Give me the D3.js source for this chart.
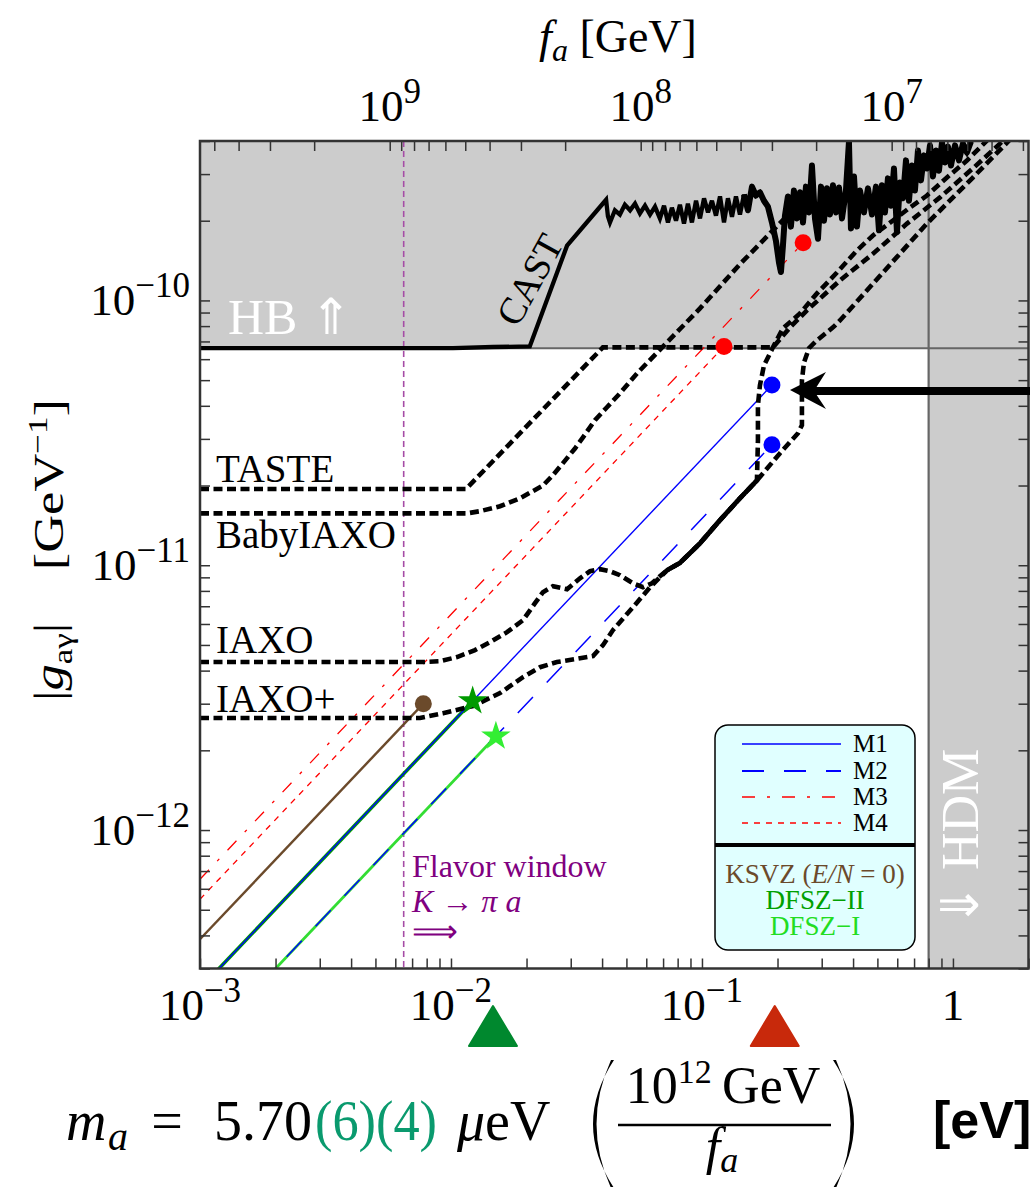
<!DOCTYPE html>
<html><head><meta charset="utf-8">
<script src="https://cdn.jsdelivr.net/npm/d3@7"></script>
<style>
body{margin:0;background:#fff;}
svg text{font-family:"Liberation Serif","Times New Roman",serif;}
</style></head><body>
<svg id="chart" width="1030" height="1187"></svg>
<script>
// ---------------- data (m_a in eV, g in GeV^-1) ----------------
const massDomain=[1e-3,2];
const gDomain=[3e-13,4e-10];
const hbLimit=6.6e-11;
const hdmLimit=0.8;
const flavorMass=6.48e-3;
const faConv=5.7e6;           // f_a[GeV] = 5.7e6 / m_a[eV]

const castM=[1e-3,1.018e-2,1.47e-2,2.06e-2,2.9e-2,4.15e-2,4.22e-2,
4.30e-2,4.50e-2,4.71e-2,4.93e-2,5.17e-2,5.41e-2,5.66e-2,5.93e-2,6.21e-2,6.50e-2,6.80e-2,7.06e-2,7.32e-2,7.59e-2,7.88e-2,8.17e-2,8.48e-2,8.79e-2,9.12e-2,9.47e-2,9.82e-2,
0.1019,0.1057,0.1096,0.1137,0.1180,0.1224,0.1269,0.1317,0.1366,0.1417,0.1470,0.1525,0.1582,0.1641,0.1702,0.1766,0.1832,0.1900,0.1971,0.2027,0.2064,0.2102,0.2141,0.2200,0.2262,0.2325,0.2390,0.2457,0.2526,0.2596,0.2669,0.2743,0.2820,0.2899,0.2980,0.3063,0.3148,0.3236,0.3327,0.3420,0.3515,0.3613,0.3747,0.3852,0.3923,0.4034,0.4146,0.4262,0.4421,0.4586,0.4757,0.4934,0.5072,0.5214,0.5359,0.5508,0.5662,0.5821,0.5983,0.6150,0.6322,0.6499,0.6680,0.6866,0.7057,0.7254,0.7457,0.7665,0.7879,0.8099,0.8325,0.8558,0.8796,0.9043,0.9292,0.9552,0.9818,1.019,1.057,1.096,1.137,1.180];
const castG=[6.6e-11,6.6e-11,6.67e-11,6.7e-11,1.61e-10,2.4e-10,2.08e-10,
1.97e-10,2.19e-10,2.11e-10,2.30e-10,2.19e-10,2.32e-10,2.13e-10,2.28e-10,2.11e-10,2.26e-10,2.04e-10,2.28e-10,1.97e-10,2.24e-10,2.00e-10,2.30e-10,1.95e-10,2.32e-10,1.97e-10,2.38e-10,2.04e-10,
2.43e-10,2.15e-10,2.38e-10,2.09e-10,2.47e-10,1.97e-10,2.43e-10,2.07e-10,2.47e-10,2.11e-10,2.51e-10,2.19e-10,2.69e-10,2.49e-10,2.56e-10,2.38e-10,2.26e-10,1.97e-10,1.68e-10,1.39e-10,1.28e-10,1.61e-10,2.09e-10,2.47e-10,1.90e-10,2.60e-10,2.04e-10,2.56e-10,1.97e-10,2.69e-10,2.15e-10,3.23e-10,2.04e-10,1.71e-10,2.69e-10,2.00e-10,2.65e-10,2.11e-10,2.72e-10,2.15e-10,2.67e-10,2.04e-10,2.60e-10,3.98e-10,1.87e-10,2.94e-10,1.90e-10,2.60e-10,2.15e-10,2.65e-10,2.11e-10,2.69e-10,1.84e-10,2.72e-10,2.15e-10,2.89e-10,2.28e-10,3.15e-10,1.81e-10,2.79e-10,2.43e-10,3.38e-10,2.38e-10,3.23e-10,2.60e-10,3.68e-10,2.84e-10,3.53e-10,3.15e-10,3.85e-10,2.94e-10,3.68e-10,3.09e-10,3.95e-10,3.32e-10,3.81e-10,3.23e-10,3.85e-10,3.38e-10,3.91e-10,3.62e-10,3.98e-10];

const tasteM=[1e-3,1.148e-2,4.03e-2,0.1918,0.2242,0.2620,0.3546,0.480,0.656,0.888,1.20,1.54,1.687];
const tasteG=[1.94e-11,1.94e-11,6.65e-11,6.65e-11,7.91e-11,9.17e-11,1.19e-10,1.50e-10,1.95e-10,2.45e-10,3.15e-10,3.91e-10,4.27e-10];

const babyM=[1e-3,1.158e-2,1.305e-2,1.568e-2,1.883e-2,2.325e-2,2.549e-2,2.794e-2,3.119e-2,3.357e-2,3.747e-2,4.183e-2,4.713e-2,5.559e-2,9.82e-2,0.1417,0.1918,0.2457];
const babyG=[1.57e-11,1.57e-11,1.60e-11,1.67e-11,1.79e-11,2.00e-11,2.19e-11,2.43e-11,2.76e-11,3.04e-11,3.53e-11,3.95e-11,4.46e-11,5.35e-11,9.33e-11,1.37e-10,1.84e-10,2.34e-10];

const iaxoM=[1e-3,7.734e-3,9.04e-3,1.057e-2,1.246e-2,1.430e-2,1.672e-2,1.936e-2,2.161e-2,2.325e-2,2.549e-2,2.899e-2,3.266e-2,3.579e-2,3.924e-2,4.30e-2,4.713e-2,5.311e-2,5.821e-2,6.322e-2,6.80e-2,7.254e-2,8.17e-2,9.82e-2,0.1180,0.1417,0.1656,0.1671,0.1671,0.1702,0.1766,0.1918,0.2102,0.2457,0.2872,0.3450,0.4146,0.480,0.5768,0.6742,0.7879,0.9465,1.137,1.281,1.404];
const iaxoG=[4.31e-12,4.31e-12,4.34e-12,4.50e-12,4.78e-12,5.12e-12,5.59e-12,6.20e-12,7.19e-12,7.91e-12,8.33e-12,8.12e-12,8.93e-12,9.49e-12,9.66e-12,9.49e-12,9.17e-12,8.55e-12,8.26e-12,8.55e-12,9.09e-12,9.57e-12,1.02e-11,1.21e-11,1.48e-11,1.79e-11,2.09e-11,2.96e-11,4.02e-11,4.78e-11,5.68e-11,6.65e-11,7.84e-11,8.93e-11,1.063e-10,1.275e-10,1.544e-10,1.759e-10,2.004e-10,2.243e-10,2.490e-10,2.912e-10,3.376e-10,3.779e-10,4.12e-10];

const iaxoPlusM=[1e-3,7.525e-3,9.292e-3,1.224e-2,1.568e-2,1.936e-2,2.262e-2,2.644e-2,3.119e-2,3.679e-2,4.033e-2,4.42e-2,5.311e-2,6.21e-2,7.254e-2,8.17e-2,9.82e-2,0.1180,0.1417,0.1656,0.2046,0.2413,0.2502,0.2502,0.2549,0.2669,0.2872,0.3327,0.3546,0.7879,1.201,1.718];
const iaxoPlusG=[2.65e-12,2.65e-12,2.76e-12,2.94e-12,3.29e-12,3.78e-12,4.12e-12,4.31e-12,4.42e-12,4.54e-12,4.99e-12,5.69e-12,6.94e-12,8.26e-12,9.57e-12,1.02e-11,1.21e-11,1.48e-11,1.79e-11,2.09e-11,2.65e-11,3.15e-11,3.38e-11,4.99e-11,5.83e-11,6.6e-11,7.07e-11,7.91e-11,8.40e-11,1.952e-10,2.912e-10,4.12e-10];

const m1M=[1e-3,0.19],   m1G=[2.52e-13,4.79e-11];
const m2M=[1e-3,0.19],   m2G=[1.5e-13,2.85e-11];
const m3M=[1e-3,0.253],  m3G=[6.52e-13,1.65e-10];
const m4M=[1e-3,0.1224], m4G=[5.48e-13,6.7e-11];
const ksvzM=[1e-3,7.76e-3], ksvzG=[3.87e-13,3.0e-12];
const dfsz2M=[1e-3,1.22e-2], dfsz2G=[2.52e-13,3.07e-12];
const dfsz1M=[1e-3,1.51e-2], dfsz1G=[1.5e-13,2.26e-12];

const triangleM=[1.47e-2,0.195];
const bottomTickLabels=[{v:1e-3,b:"10",e:"\u22123"},{v:1e-2,b:"10",e:"\u22122"},{v:1e-1,b:"10",e:"\u22121"},{v:1,b:"1",e:""}];
const leftTickLabels=[{v:1e-10,b:"10",e:"\u221210"},{v:1e-11,b:"10",e:"\u221211"},{v:1e-12,b:"10",e:"\u221212"}];
const topTickLabels=[{v:1e9,b:"10",e:"9"},{v:1e8,b:"10",e:"8"},{v:1e7,b:"10",e:"7"}];
const detectorNames=["TASTE","BabyIAXO","IAXO","IAXO+"];
const modelNames=["M1","M2","M3","M4"];

// ---------------- drawing ----------------
const svg=d3.select("#chart");
const L=200,R=1028.5,T=141,B=968.5;
const X=d3.scaleLog().domain(massDomain).range([L,R]);
const Y=d3.scaleLog().domain(gDomain).range([B,T]);
const FA=d3.scaleLog().domain([faConv/massDomain[0],faConv/massDomain[1]]).range([L,R]);
const zip=(a,b)=>a.map((v,i)=>[v,b[i]]);
const line=d3.line().x(d=>X(d[0])).y(d=>Y(d[1]));

svg.append("defs").append("clipPath").attr("id","clip").append("rect")
  .attr("x",L).attr("y",T).attr("width",R-L).attr("height",B-T);
const plot=svg.append("g").attr("clip-path","url(#clip)");

// excluded regions
plot.append("rect").attr("x",L).attr("y",T).attr("width",X(hdmLimit)-L).attr("height",Y(hbLimit)-T).attr("fill","#cccccc");
plot.append("rect").attr("x",X(hdmLimit)).attr("y",T).attr("width",R-X(hdmLimit)).attr("height",B-T).attr("fill","#cccccc");
plot.append("line").attr("x1",L).attr("x2",R).attr("y1",Y(hbLimit)).attr("y2",Y(hbLimit)).attr("stroke","#666").attr("stroke-width",2);
plot.append("line").attr("x1",X(hdmLimit)).attr("x2",X(hdmLimit)).attr("y1",T).attr("y2",B).attr("stroke","#666").attr("stroke-width",2.2);

// flavor window
plot.append("line").attr("x1",X(flavorMass)).attr("x2",X(flavorMass)).attr("y1",T).attr("y2",B)
  .attr("stroke","#a64ca6").attr("stroke-width",1.6).attr("stroke-dasharray","6,4");

// model lines
function path(m,g,color,w,dash){
  plot.append("path").datum(zip(m,g)).attr("d",line).attr("fill","none")
    .attr("stroke",color).attr("stroke-width",w).attr("stroke-dasharray",dash||null);
}
path(dfsz2M,dfsz2G,"#009a00",3.6);
path(dfsz1M,dfsz1G,"#33dd33",2.8);
path(ksvzM,ksvzG,"#6b4a2b",2.4);
path(m1M,m1G,"#0000ff",1.4);
path(m2M,m2G,"#0000ff",1.5,"22,20");
path(m3M,m3G,"#ff0000",1.3,"13,12,3,12");
path(m4M,m4G,"#ff0000",1.3,"6,6");

// detector projections
const iaxoPts=zip(iaxoM,iaxoG), iaxoPlusPts=zip(iaxoPlusM,iaxoPlusG);
[zip(tasteM,tasteG),zip(babyM,babyG),iaxoPts,iaxoPlusPts].forEach(pts=>{
  plot.append("path").datum(pts).attr("d",line).attr("fill","none")
    .attr("stroke","#000").attr("stroke-width",4.6).attr("stroke-dasharray","9,4.5");
});
// where IAXO and IAXO+ coincide the overlapping dashes look solid
const shared=iaxoPts.filter(p=>iaxoPlusPts.some(q=>q[0]===p[0]&&q[1]===p[1])&&p[0]>1e-2);
plot.append("path").datum(shared).attr("d",line).attr("fill","none").attr("stroke","#000").attr("stroke-width",4.6);

// CAST
const castPts=zip(castM,castG);
plot.append("path").datum(castPts).attr("d",line).attr("fill","none")
  .attr("stroke","#000").attr("stroke-width",4.3).attr("stroke-linejoin","miter").attr("stroke-miterlimit",3);
plot.append("path").datum(castPts.filter(p=>p[0]>=0.145)).attr("d",line).attr("fill","none")
  .attr("stroke","#000").attr("stroke-width",6).attr("stroke-linejoin","round");

// dots & stars
const dots=[[m3M[1],m3G[1],"#ff0000"],[m4M[1],m4G[1],"#ff0000"],[m1M[1],m1G[1],"#0000ff"],[m2M[1],m2G[1],"#0000ff"],[ksvzM[1],ksvzG[1],"#6b4a2b"]];
plot.selectAll("circle.dot").data(dots).join("circle").attr("class","dot")
  .attr("cx",d=>X(d[0])).attr("cy",d=>Y(d[1])).attr("r",8.5).attr("fill",d=>d[2]);
const stars=[[dfsz2M[1],dfsz2G[1],"#009a00"],[dfsz1M[1],dfsz1G[1],"#33ee33"]];
plot.selectAll("path.star").data(stars).join("path").attr("class","star")
  .attr("transform",d=>`translate(${X(d[0])},${Y(d[1])})`)
  .attr("d",d3.symbol(d3.symbolStar).size(270)).attr("fill",d=>d[2]);

// frame & ticks
const tickStyle=g=>{g.select(".domain").remove();g.selectAll("line").attr("stroke","#333").attr("stroke-width",1.5);g.selectAll("text").remove();};
svg.append("g").attr("transform",`translate(0,${B})`).call(d3.axisBottom(X).tickValues(X.ticks()).tickSize(-10)).call(tickStyle);
svg.append("g").attr("transform",`translate(0,${T})`).call(d3.axisTop(FA).tickValues(FA.ticks()).tickSize(-10)).call(tickStyle);
svg.append("g").attr("transform",`translate(${L},0)`).call(d3.axisLeft(Y).tickValues(Y.ticks()).tickSize(-10)).call(tickStyle);
svg.append("g").attr("transform",`translate(${R},0)`).call(d3.axisRight(Y).tickValues(Y.ticks()).tickSize(-10)).call(tickStyle);
svg.append("rect").attr("x",L).attr("y",T).attr("width",R-L).attr("height",B-T).attr("fill","none").attr("stroke","#333").attr("stroke-width",2.5);

// tick labels
function supText(x,y,b,e,anchor){
  const t=svg.append("text").attr("x",x).attr("y",y).attr("text-anchor",anchor).attr("font-size",45).attr("fill","#000");
  t.append("tspan").text(b);
  if(e) t.append("tspan").attr("dy",-18).attr("font-size",35).text(e);
}
bottomTickLabels.forEach(d=>supText(X(d.v),1020,d.b,d.e,"middle"));
leftTickLabels.forEach(d=>supText(190,Y(d.v)+15,d.b,d.e,"end"));
topTickLabels.forEach(d=>supText(FA(d.v),121,d.b,d.e,"middle"));

// axis titles
{
  const t=svg.append("text").attr("x",618).attr("y",52).attr("text-anchor","middle").attr("font-size",46);
  t.append("tspan").attr("font-style","italic").text("f");
  t.append("tspan").attr("font-style","italic").attr("font-size",32).attr("dy",9).text("a");
  t.append("tspan").attr("dy",-9).text(" [GeV]");
}
{
  const t=svg.append("text").attr("transform","translate(63,550) rotate(-90)").attr("text-anchor","middle").attr("font-size",42)
    .attr("textLength",302).attr("lengthAdjust","spacingAndGlyphs");
  t.append("tspan").text("|");
  t.append("tspan").attr("font-style","italic").text("g");
  t.append("tspan").attr("font-size",28).attr("dy",9).text("a\u03b3");
  t.append("tspan").attr("dy",-9).text("|\u2003[GeV");
  t.append("tspan").attr("font-size",28).attr("dy",-16).text("\u22121");
  t.append("tspan").attr("dy",16).text("]");
}

// region labels
svg.append("text").attr("x",228).attr("y",334).attr("font-size",50).attr("fill","#fff").text("HB \u21d1");
svg.append("text").attr("transform","translate(978,927) rotate(-90)").attr("font-size",52).attr("fill","#fff").text("\u21d3 HDM");
svg.append("text").attr("transform","translate(541,286) rotate(-61)").attr("text-anchor","middle").attr("font-size",38).text("CAST");
const detY=[482,548,653,712];
detectorNames.forEach((n,i)=>svg.append("text").attr("x",216).attr("y",detY[i]).attr("font-size",39).text(n));

// flavor window text
{
  const c="#800080";
  svg.append("text").attr("x",412).attr("y",877).attr("font-size",32).attr("fill",c).text("Flavor window");
  const t=svg.append("text").attr("x",412).attr("y",912).attr("font-size",32).attr("fill",c);
  t.append("tspan").attr("font-style","italic").text("K");
  t.append("tspan").text(" \u2192 ");
  t.append("tspan").attr("font-style","italic").text("\u03c0 a");
  svg.append("text").attr("x",412).attr("y",942).attr("font-size",32).attr("fill",c).text("\u27f9");
}

// arrow
svg.append("line").attr("x1",1030).attr("x2",812).attr("y1",391).attr("y2",391).attr("stroke","#000").attr("stroke-width",8);
svg.append("path").attr("d","M790,390 L826,372 L814,391 L826,409 Z").attr("fill","#000");

// legend
const lg=svg.append("g");
lg.append("rect").attr("x",715).attr("y",725).attr("width",200).attr("height",225).attr("rx",13)
  .attr("fill","#e0ffff").attr("stroke","#000").attr("stroke-width",1.5);
lg.append("line").attr("x1",715).attr("x2",915).attr("y1",845).attr("y2",845).attr("stroke","#000").attr("stroke-width",4);
const legY=[744,771,797,823];
const legStyle=[["#0000ff",null,1.6],["#0000ff","22,20",1.8],["#ff0000","13,12,3,12",1.5],["#ff0000","6,6",1.5]];
modelNames.forEach((n,i)=>{
  lg.append("line").attr("x1",742).attr("x2",841).attr("y1",legY[i]).attr("y2",legY[i])
    .attr("stroke",legStyle[i][0]).attr("stroke-width",legStyle[i][2]).attr("stroke-dasharray",legStyle[i][1]);
  lg.append("text").attr("x",853).attr("y",legY[i]+8).attr("font-size",25).text(n);
});
{
  const t=lg.append("text").attr("x",815).attr("y",883).attr("text-anchor","middle").attr("font-size",27).attr("fill","#6b4a2b");
  t.append("tspan").text("KSVZ (");
  t.append("tspan").attr("font-style","italic").text("E/N");
  t.append("tspan").text(" = 0)");
  lg.append("text").attr("x",815).attr("y",909).attr("text-anchor","middle").attr("font-size",27).attr("fill","#00a000").text("DFSZ\u2212II");
  lg.append("text").attr("x",815).attr("y",935).attr("text-anchor","middle").attr("font-size",27).attr("fill","#22dd22").text("DFSZ\u2212I");
}

// triangles below axis
const triCol=["#00882e","#c8290b"];
triangleM.forEach((m,i)=>{
  const cx=X(m);
  svg.append("path").attr("d",`M${cx},1006 L${cx+24},1046 L${cx-24},1046 Z`).attr("fill",triCol[i])
    .attr("stroke",triCol[i]).attr("stroke-width",2).attr("stroke-linejoin","round");
});

// formula
{
  const f=svg.append("g").attr("font-size",56);
  f.append("text").attr("x",66).attr("y",1140).attr("font-style","italic").text("m");
  f.append("text").attr("x",108).attr("y",1150).attr("font-style","italic").attr("font-size",40).text("a");
  f.append("text").attr("x",167).attr("y",1140).attr("text-anchor","middle").text("=");
  f.append("text").attr("x",214).attr("y",1140).attr("textLength",98).attr("lengthAdjust","spacingAndGlyphs").text("5.70");
  f.append("text").attr("x",315).attr("y",1140).attr("fill","#0a9a6e").attr("textLength",122).attr("lengthAdjust","spacingAndGlyphs").text("(6)(4)");
  const mu=f.append("text").attr("x",457).attr("y",1140);
  mu.append("tspan").attr("font-style","italic").text("\u03bc");
  mu.append("tspan").text("eV");
  // big parentheses
  f.append("path").attr("d","M614,1060 Q572,1124 614,1188 L611,1188 Q582,1124 611,1060 Z").attr("fill","#000");
  f.append("path").attr("d","M833,1060 Q875,1124 833,1188 L836,1188 Q865,1124 836,1060 Z").attr("fill","#000");
  const num=f.append("text").attr("x",723).attr("y",1103).attr("text-anchor","middle").attr("font-size",52);
  num.append("tspan").text("10");
  num.append("tspan").attr("font-size",34).attr("dy",-20).text("12");
  num.append("tspan").attr("dy",20).text("\u2009GeV");
  f.append("line").attr("x1",618).attr("x2",831).attr("y1",1125).attr("y2",1125).attr("stroke","#000").attr("stroke-width",2.5);
  const den=f.append("text").attr("x",722).attr("y",1164).attr("text-anchor","middle").attr("font-size",52);
  den.append("tspan").attr("font-style","italic").text("f");
  den.append("tspan").attr("font-style","italic").attr("font-size",36).attr("dy",8).text("a");
  svg.append("text").attr("x",933).attr("y",1138)
    .style("font-family","'Liberation Sans', Arial, sans-serif").attr("font-weight","bold").attr("font-size",52).text("[eV]");
}
</script>
</body></html>
